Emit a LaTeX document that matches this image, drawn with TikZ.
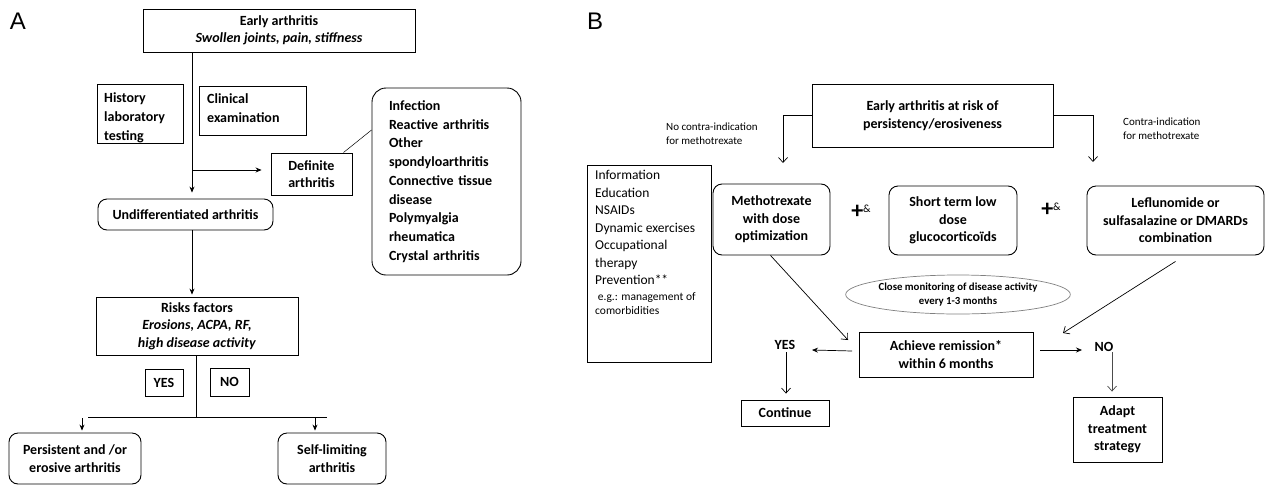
\documentclass[tikz,border=0pt]{standalone}
\usepackage{fontspec}
\setmainfont{Carlito}
\newfontfamily\arialf{Liberation Sans}
\usetikzlibrary{arrows.meta,shapes.geometric,calc}
\begin{document}
\begin{tikzpicture}[x=1pt,y=-1pt,
  box/.style={draw, line width=0.9pt, inner sep=0pt, align=center, font=\bfseries\fontsize{14}{17.5}\selectfont},
  rbox/.style={box, rounded corners=9pt},
  plain/.style={draw, line width=0.9pt, inner sep=0pt},
  txt/.style={inner sep=0pt, align=left, font=\bfseries\fontsize{14}{19}\selectfont},
  ln/.style={line width=0.7pt},
  arr/.style={ln, -{Stealth[length=6pt,width=5pt]}},
  oarr/.style={ln, -{Straight Barb[length=5pt,width=9pt]}},
  small/.style={inner sep=0pt, align=left, font=\fontsize{11}{14}\selectfont},
  panel/.style={inner sep=0pt, font=\arialf\fontsize{24}{24}\selectfont},
  plus/.style={inner sep=0pt},
]
\useasboundingbox[fill=white] (0,0) rectangle (1266,485);

% ---------------- Panel A ----------------
\node[panel] (labA) at (18,21) {A};
\node[box, minimum width=272pt, minimum height=43pt] (early) at (279,30.5)
  {Early arthritis\\\textit{Swollen joints, pain, stiffness}};
\node[plain, minimum width=86pt, minimum height=59pt] (hist) at (140,113.5) {};
\begin{scope}
  \clip (hist.south west) rectangle (hist.north east);
  \node[txt, anchor=north west] (histt) at (104,92) {History\\laboratory\\testing};
\end{scope}
\node[plain, minimum width=107pt, minimum height=49pt] (clin) at (252.5,110.5) {};
\node[txt, anchor=north west] (clint) at (207,93) {Clinical\\examination};
\node[box, align=left, minimum width=81pt, minimum height=42pt] (defn) at (311.5,174) {Definite\\arthritis};
\node[rbox, rounded corners=14pt, align=left, text width=115pt, minimum width=149pt, minimum height=187pt,
  font=\bfseries\fontsize{14}{18.75}\selectfont] (list) at (446.5,181.5)
  {Infection\\Reactive arthritis\\Other\\spondyloarthritis\\Connective tissue\\disease\\Polymyalgia\\rheumatica\\Crystal arthritis};
\node[rbox, minimum width=175pt, minimum height=31pt] (undiff) at (185.5,214.5) {Undifferentiated arthritis};
\node[box, minimum width=202pt, minimum height=58pt] (risk) at (197,326)
  {Risks factors\\\textit{Erosions, ACPA, RF,}\\\textit{high disease activity}};
\node[box, minimum width=38pt, minimum height=27pt] (yes) at (164,382.5) {YES};
\node[box, minimum width=39pt, minimum height=28pt] (no) at (229.5,382) {NO};
\node[rbox, minimum width=132pt, minimum height=51pt] (pers) at (75,458.5) {Persistent and /or\\erosive arthritis};
\node[rbox, minimum width=108pt, minimum height=51pt] (self) at (332,458.5) {Self-limiting\\arthritis};

\coordinate (trunk) at (192,0);
\draw[arr, shorten >=6pt] (early.south -| trunk) -- (undiff.north -| trunk);
\coordinate (br) at (192,170);
\draw[arr, shorten >=9pt] (br) -- (br -| defn.west);
\draw[ln, line width=0.5pt] ([xshift=-9pt]defn.north east) -- ([yshift=51.5pt]list.west);
\draw[arr, shorten >=2pt] (undiff.south -| trunk) -- (risk.north -| trunk);
\coordinate (rb) at (196,0);
\coordinate (hl) at (88,417);
\coordinate (hr) at (327,417);
\draw[ln] (risk.south -| rb) -- (hl -| rb);
\draw[ln] (hl) -- (hr);
\coordinate (al) at (82,418);
\coordinate (ar) at (315,418);
\draw[arr, shorten >=2pt] (al) -- (al |- pers.north);
\draw[arr, shorten >=2pt] (ar) -- (ar |- self.north);

% ---------------- Panel B ----------------
\node[panel] (labB) at (595,21) {B};
\node[box, minimum width=241pt, minimum height=63pt] (risk2) at (932.5,115.5)
  {Early arthritis at risk of\\persistency/erosiveness};
\coordinate (cl) at (783,163);
\coordinate (cr) at (1093,162);
\draw[oarr] (risk2.west) -| (cl);
\draw[oarr] (risk2.east) -| (cr);
\node[small, anchor=west] (nci) at (666,134) {No contra-indication\\for methotrexate};
\node[small, anchor=west] (ci) at (1123,129) {Contra-indication\\for methotrexate};

\node[plain, minimum width=124pt, minimum height=197pt] (info) at (649,263.5) {};
\node[inner sep=0pt, align=left, anchor=north west, font=\fontsize{13.5}{17.5}\selectfont] (infot) at (595,170)
  {Information\\Education\\NSAIDs\\Dynamic exercises\\Occupational\\therapy\\Prevention**\\[-2pt]
   {\fontsize{11.5}{15}\selectfont\ e.g.: management of}\\[-3pt]{\fontsize{11.5}{15}\selectfont comorbidities}};

\node[rbox, minimum width=117pt, minimum height=71pt] (mtx) at (771.5,219.5) {Methotrexate\\with dose\\optimization};
\node[plus] (p1) at (861,212) {{\fontsize{24}{24}\selectfont\bfseries +}\raisebox{6pt}{\fontsize{11}{11}\selectfont\&}};
\node[rbox, minimum width=128pt, minimum height=69pt] (short) at (953,220.5) {Short term low\\dose\\glucocorticoïds};
\node[plus] (p2) at (1051,210) {{\fontsize{24}{24}\selectfont\bfseries +}\raisebox{6pt}{\fontsize{11}{11}\selectfont\&}};
\node[rbox, minimum width=177pt, minimum height=69pt] (lef) at (1175.5,220.5) {Leflunomide or\\sulfasalazine or DMARDs\\combination};
\node[ellipse, draw=gray, line width=0.7pt, minimum width=194pt, minimum height=39pt, inner sep=0pt, align=center,
  font=\bfseries\fontsize{10.8}{13.5}\selectfont] (mon) at (958,294.5) {Close monitoring of disease activity\\every 1-3 months};
\node[box, minimum width=174pt, minimum height=45pt] (ach) at (946,354.5) {Achieve remission*\\within 6 months};
\node[txt] (yes2) at (785,345) {YES};
\node[txt] (no2) at (1104,347) {NO};
\node[box, minimum width=88pt, minimum height=26pt] (cont) at (785,413) {Continue};
\node[box, minimum width=89pt, minimum height=65pt] (adapt) at (1117.5,429.5) {Adapt\\treatment\\strategy};

\coordinate (a1) at (848,340);
\draw[oarr] ([xshift=-1pt]mtx.south) -- (a1);
\coordinate (a2) at (1063,333);
\draw[oarr] ([yshift=-6pt]lef.south) -- (a2);
\coordinate (ya) at (852,351);
\coordinate (yb) at (812,350);
\draw[arr] (ya) -- (yb);
\coordinate (yd) at (786,352);
\draw[oarr, shorten >=6pt] (yd) -- (yd |- cont.north);
\coordinate (na) at (1040,350);
\coordinate (nb) at (1082,350);
\draw[arr] (na) -- (nb);
\coordinate (nd) at (1112,352);
\draw[oarr, draw=black!70, shorten >=5pt] (nd) -- (nd |- adapt.north);
\end{tikzpicture}
\end{document}
